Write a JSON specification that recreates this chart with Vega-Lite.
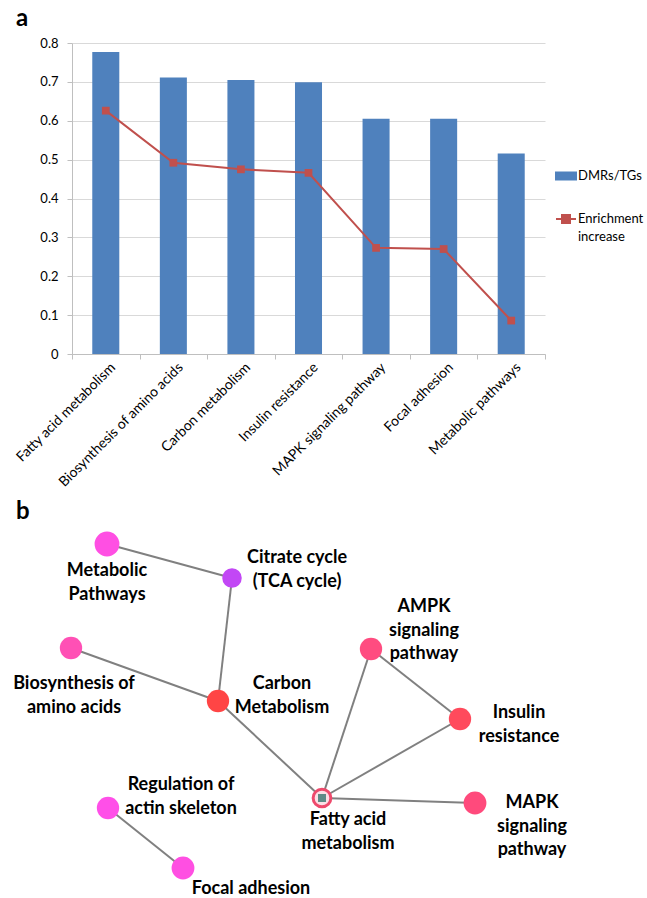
{
  "$schema": "https://vega.github.io/schema/vega-lite/v6.json",
  "background": "white",
  "padding": {"left": 13, "top": 7, "right": 0, "bottom": 0},
  "spacing": 10,
  "config": {"font": "Lato", "view": {"stroke": null}},
  "datasets": {
    "pathways": [
      {"pathway": "Fatty acid metabolism", "dmr_tg": 0.777, "enrichment": 0.626},
      {"pathway": "Biosynthesis of amino acids", "dmr_tg": 0.711, "enrichment": 0.492},
      {"pathway": "Carbon metabolism", "dmr_tg": 0.705, "enrichment": 0.475},
      {"pathway": "Insulin resistance", "dmr_tg": 0.699, "enrichment": 0.466},
      {"pathway": "MAPK signaling pathway", "dmr_tg": 0.605, "enrichment": 0.273},
      {"pathway": "Focal adhesion", "dmr_tg": 0.605, "enrichment": 0.270},
      {"pathway": "Metabolic pathways", "dmr_tg": 0.516, "enrichment": 0.086}
    ],
    "nodes": [
      {"term": "Metabolic Pathways", "label": "Metabolic\nPathways", "x": 35, "y": 23, "lx": 35, "ly": 50, "sig": 3},
      {"term": "Citrate cycle (TCA cycle)", "label": "Citrate cycle\n(TCA cycle)", "x": 160, "y": 57, "lx": 225, "ly": 37, "sig": 1},
      {"term": "Biosynthesis of amino acids", "label": "Biosynthesis of\namino acids", "x": -1, "y": 127, "lx": 2, "ly": 163, "sig": 2},
      {"term": "Carbon Metabolism", "label": "Carbon\nMetabolism", "x": 146, "y": 180, "lx": 210, "ly": 163, "sig": 2},
      {"term": "Fatty acid metabolism", "label": "Fatty acid\nmetabolism", "x": 250, "y": 277, "lx": 276, "ly": 299, "sig": 2},
      {"term": "AMPK signaling pathway", "label": "AMPK\nsignaling\npathway", "x": 299, "y": 128, "lx": 352, "ly": 86, "sig": 2},
      {"term": "Insulin resistance", "label": "Insulin\nresistance", "x": 388, "y": 198, "lx": 447, "ly": 192, "sig": 2},
      {"term": "MAPK signaling pathway", "label": "MAPK\nsignaling\npathway", "x": 403, "y": 282, "lx": 460, "ly": 282, "sig": 2.2},
      {"term": "Regulation of actin skeleton", "label": "Regulation of\nactin skeleton", "x": 36, "y": 287, "lx": 109, "ly": 264, "sig": 2},
      {"term": "Focal adhesion", "label": "Focal adhesion", "x": 111, "y": 347, "lx": 179, "ly": 368, "sig": 2.2}
    ],
    "edges": [
      {"source": "Metabolic Pathways", "target": "Citrate cycle (TCA cycle)"},
      {"source": "Citrate cycle (TCA cycle)", "target": "Carbon Metabolism"},
      {"source": "Biosynthesis of amino acids", "target": "Carbon Metabolism"},
      {"source": "Carbon Metabolism", "target": "Fatty acid metabolism"},
      {"source": "Fatty acid metabolism", "target": "AMPK signaling pathway"},
      {"source": "AMPK signaling pathway", "target": "Insulin resistance"},
      {"source": "Fatty acid metabolism", "target": "Insulin resistance"},
      {"source": "Fatty acid metabolism", "target": "MAPK signaling pathway"},
      {"source": "Regulation of actin skeleton", "target": "Focal adhesion"}
    ]
  },
  "resolve": {"scale": {"color": "independent", "fill": "independent", "x": "independent", "y": "independent"}},
  "vconcat": [
    {
      "width": 473,
      "height": 311,
      "title": {"text": "a", "anchor": "start", "frame": "group", "dx": -56, "offset": -13, "fontSize": 24, "fontWeight": "bold", "font": "Lato", "baseline": "alphabetic", "color": "black"},
      "data": {"name": "pathways"},
      "encoding": {
        "x": {
          "field": "pathway", "type": "nominal", "sort": null,
          "scale": {"paddingInner": 0, "paddingOuter": 0},
          "axis": {"title": null, "labelAngle": -45, "labelAlign": "right", "labelBaseline": "middle", "labelFont": "Lato", "labelFontSize": 14, "labelColor": "black", "labelPadding": 6, "labelOffset": 7, "tickBand": "extent", "tickSize": 5, "tickColor": "#BFBFBF", "domainColor": "#BFBFBF", "labelLimit": 300}
        }
      },
      "layer": [
        {
          "mark": {"type": "bar", "width": {"band": 0.4}},
          "encoding": {
            "y": {"field": "dmr_tg", "type": "quantitative", "scale": {"domain": [0, 0.8], "nice": false},
              "axis": {"title": null, "values": [0, 0.1, 0.2, 0.3, 0.4, 0.5, 0.6, 0.7, 0.8], "format": ".1~f", "grid": true, "gridColor": "#D9D9D9", "tickSize": 5, "tickColor": "#BFBFBF", "domainColor": "#BFBFBF", "labelFont": "Lato", "labelFontSize": 13, "labelColor": "black", "labelPadding": 9, "labelOverlap": false}},
            "color": {
              "datum": "DMRs/TGs",
              "scale": {"domain": ["DMRs/TGs", "Enrichment increase"], "range": ["#4F81BD", "#C0504D"]},
              "legend": {
                "orient": "none", "legendX": 483, "legendY": 122, "title": null, "padding": 0,
                "labelFont": "Lato", "labelFontSize": 13, "labelColor": "black", "labelOffset": 1,
                "symbolSize": 400, "rowPadding": 24, "labelLimit": 200,
                "labelExpr": "datum.label == 'Enrichment increase' ? ['Enrichment', 'increase'] : datum.label",
                "encode": {
                  "labels": {"update": {"lineHeight": {"value": 18}}},
                  "symbols": {"update": {
                    "shape": {"signal": "datum.value == 'DMRs/TGs' ? 'M-1,-0.35H1V0.35H-1Z' : 'M-1,0H1M-0.4,-0.4H0.4V0.4H-0.4Z'"},
                    "fill": {"signal": "datum.value == 'DMRs/TGs' ? '#4F81BD' : '#C0504D'"},
                    "stroke": {"signal": "datum.value == 'DMRs/TGs' ? '#4F81BD' : '#C0504D'"},
                    "strokeWidth": {"value": 2},
                    "opacity": {"value": 1}
                  }}
                }
              }
            }
          }
        },
        {
          "mark": {"type": "line", "strokeWidth": 2, "point": {"shape": "square", "size": 60, "filled": true, "opacity": 1}},
          "encoding": {
            "y": {"field": "enrichment", "type": "quantitative", "scale": {"domain": [0, 0.8], "nice": false},
              "axis": {"title": null, "values": [0, 0.1, 0.2, 0.3, 0.4, 0.5, 0.6, 0.7, 0.8], "format": ".1~f", "grid": true, "gridColor": "#D9D9D9", "tickSize": 5, "tickColor": "#BFBFBF", "domainColor": "#BFBFBF", "labelFont": "Lato", "labelFontSize": 13, "labelColor": "black", "labelPadding": 9, "labelOverlap": false}},
            "color": {"datum": "Enrichment increase"}
          }
        }
      ]
    },
    {
      "width": 576,
      "height": 378,
      "title": {"text": "b", "anchor": "start", "frame": "group", "dx": -56, "offset": -22, "fontSize": 24, "fontWeight": "bold", "font": "Lato", "baseline": "alphabetic", "color": "black"},
      "layer": [
        {
          "data": {"name": "edges"},
          "transform": [
            {"lookup": "source", "from": {"data": {"name": "nodes"}, "key": "term", "fields": ["x", "y"]}, "as": ["sx", "sy"]},
            {"lookup": "target", "from": {"data": {"name": "nodes"}, "key": "term", "fields": ["x", "y"]}, "as": ["tx", "ty"]}
          ],
          "mark": {"type": "rule", "color": "#808080", "strokeWidth": 2},
          "encoding": {
            "x": {"field": "sx", "type": "quantitative", "scale": {"domain": [0, 576], "nice": false, "zero": false}, "axis": null},
            "y": {"field": "sy", "type": "quantitative", "scale": {"domain": [0, 378], "nice": false, "zero": false, "reverse": true}, "axis": null},
            "x2": {"field": "tx"},
            "y2": {"field": "ty"}
          }
        },
        {
          "data": {"name": "nodes"},
          "transform": [{"filter": "datum.term != 'Fatty acid metabolism'"}],
          "mark": {"type": "circle", "opacity": 1},
          "encoding": {
            "x": {"field": "x", "type": "quantitative"},
            "y": {"field": "y", "type": "quantitative"},
            "size": {"field": "sig", "type": "quantitative", "scale": {"domain": [1, 3], "range": [380, 616]}, "legend": null},
            "fill": {"field": "term", "type": "nominal", "legend": null,
              "scale": {
                "domain": ["Metabolic Pathways", "Citrate cycle (TCA cycle)", "Biosynthesis of amino acids", "Carbon Metabolism", "AMPK signaling pathway", "Insulin resistance", "MAPK signaling pathway", "Regulation of actin skeleton", "Focal adhesion"],
                "range": ["#FF4FE3", "#C247F5", "#FF50B5", "#FF4545", "#FF4C80", "#FF4A5C", "#FF4A7C", "#FF4FE8", "#FF4FE2"]
              }}
          }
        },
        {
          "data": {"name": "nodes"},
          "transform": [{"filter": "datum.term == 'Fatty acid metabolism'"}],
          "mark": {"type": "circle", "opacity": 1, "size": 314, "fill": "#FBE0E6", "stroke": "#EE4A6C", "strokeWidth": 3},
          "encoding": {
            "x": {"field": "x", "type": "quantitative"},
            "y": {"field": "y", "type": "quantitative"}
          }
        },
        {
          "data": {"name": "nodes"},
          "transform": [{"filter": "datum.term == 'Fatty acid metabolism'"}],
          "mark": {"type": "point", "shape": "square", "filled": true, "opacity": 1, "size": 64, "color": "#5E8B87"},
          "encoding": {
            "x": {"field": "x", "type": "quantitative"},
            "y": {"field": "y", "type": "quantitative"}
          }
        },
        {
          "data": {"name": "nodes"},
          "mark": {"type": "text", "font": "Lato", "fontSize": 18, "fontWeight": "bold", "color": "black", "align": "center", "baseline": "middle", "lineBreak": "\n", "lineHeight": 23.5},
          "encoding": {
            "x": {"field": "lx", "type": "quantitative"},
            "y": {"field": "ly", "type": "quantitative"},
            "text": {"field": "label"}
          }
        }
      ]
    }
  ]
}
